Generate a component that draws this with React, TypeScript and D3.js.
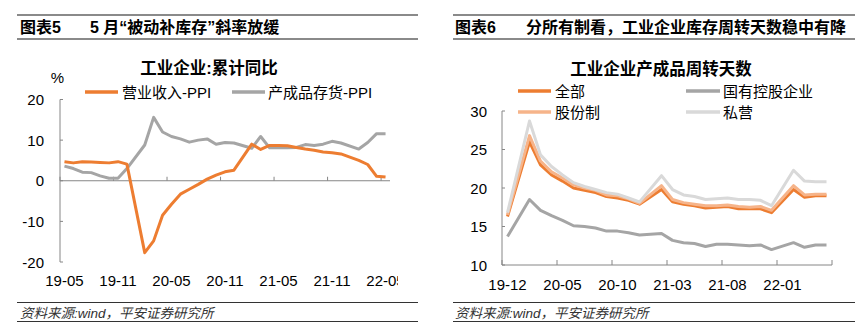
import React from 'react';
import * as d3 from 'd3';

// ---------- Left chart data ----------
const leftMonths = [
  '19-05', '19-06', '19-07', '19-08', '19-09', '19-10', '19-11', '19-12',
  '20-01', '20-02', '20-03', '20-04', '20-05', '20-06', '20-07', '20-08', '20-09', '20-10', '20-11', '20-12',
  '21-01', '21-02', '21-03', '21-04', '21-05', '21-06', '21-07', '21-08', '21-09', '21-10', '21-11', '21-12',
  '22-01', '22-02', '22-03', '22-04', '22-05',
];
const revenueMinusPPI = [
  4.7, 4.4, 4.7, 4.6, 4.5, 4.4, 4.7, 4.1,
  null, -17.7, -14.8, -8.5, -5.8, -3.3, -2.1, -0.9, 0.4, 1.4, 2.2, 2.6,
  null, 9.0, 7.7, 8.7, 8.7, 8.6, 8.2, 7.8, 7.5, 7.1, 6.9, 6.6,
  null, 5.0, 4.0, 1.1, 0.9,
];
const inventoryMinusPPI = [
  3.6, 3.0, 2.1, 2.0, 1.2, 0.6, 0.6, 3.0,
  null, 8.8, 15.6, 12.0, 10.9, 10.3, 9.5, 10.0, 10.3, 9.0, 9.4, 9.3,
  null, 8.0, 10.9, 8.1, 8.1, 8.1, 8.2, 8.9, 8.7, 9.0, 9.7, 9.3,
  null, 7.8, 9.4, 11.6, 11.6,
];
const leftYTicks = [-20, -10, 0, 10, 20];

// ---------- Right chart data ----------
const rightMonths = [
  '19-12',
  '20-01', '20-02', '20-03', '20-04', '20-05', '20-06', '20-07', '20-08', '20-09', '20-10', '20-11', '20-12',
  '21-01', '21-02', '21-03', '21-04', '21-05', '21-06', '21-07', '21-08', '21-09', '21-10', '21-11', '21-12',
  '22-01', '22-02', '22-03', '22-04', '22-05',
];
const allEnt = [16.3, null, 26.0, 23.0, 21.7, 20.9, 20.0, 19.7, 19.4, 18.9, 18.7, 18.4, 17.9, null, 19.8, 18.2, 17.9, 17.7, 17.4, 17.5, 17.6, 17.3, 17.3, 17.3, 16.8, null, 19.8, 18.8, 19.0, 19.0];
const soeEnt = [13.7, null, 18.5, 17.1, 16.4, 15.8, 15.1, 15.0, 14.8, 14.4, 14.4, 14.2, 13.9, null, 14.1, 13.2, 12.9, 12.8, 12.4, 12.7, 12.7, 12.6, 12.5, 12.6, 12.0, null, 12.9, 12.3, 12.6, 12.6];
const shareEnt = [16.5, null, 26.8, 23.5, 22.1, 21.3, 20.4, 20.0, 19.7, 19.1, 19.0, 18.6, 18.0, null, 20.3, 18.5, 18.1, 17.9, 17.7, 17.7, 17.8, 17.6, 17.5, 17.6, 17.1, null, 20.3, 19.1, 19.2, 19.2];
const privateEnt = [16.8, null, 28.7, 24.3, 22.8, 21.7, 20.7, 20.2, 19.8, 19.4, 19.2, 18.7, 18.2, null, 21.6, 19.8, 19.1, 18.9, 18.5, 18.6, 18.7, 18.5, 18.5, 18.4, 17.7, null, 22.3, 20.9, 20.8, 20.8];
const rightYTicks = [10, 15, 20, 25, 30];

const FONT = "'Liberation Sans', 'Noto Sans CJK SC', sans-serif";
const AXIS = '#868686';
const ORANGE = '#ED7D31';
const GRAY = '#A5A5A5';
const PEACH = '#F6B48A';
const LIGHTGRAY = '#D9D9D9';

function makePath(months: string[], vals: (number | null)[], x: any, y: any) {
  const pts: [number, number][] = [];
  months.forEach((m, i) => {
    const v = vals[i];
    if (v !== null && v !== undefined) pts.push([x(m) + x.bandwidth() / 2, y(v)]);
  });
  return d3.line()(pts) || '';
}

export default function App() {
  const xL = d3.scaleBand<string>().domain(leftMonths).range([60, 390]);
  const yL = d3.scaleLinear().domain([-20, 20]).range([262, 99.5]);
  const xR = d3.scaleBand<string>().domain(rightMonths).range([502, 832]);
  const yR = d3.scaleLinear().domain([10, 30]).range([265, 111]);

  const leftTickIdx = d3.range(0, leftMonths.length, 6);
  const rightTickX = d3.range(0, rightMonths.length, 5).map((i) => xR(rightMonths[i]) as number).concat([832]);

  const header = (x0: number, x1: number, tag: string, tagX: number, title: string, titleX: number) => (
    <g>
      <line x1={x0} x2={x1} y1={15} y2={15} stroke="#8a8a8a" strokeWidth={2} />
      <line x1={x0} x2={x1} y1={39} y2={39} stroke="#8a8a8a" strokeWidth={2} />
      <text x={tagX} y={27} fontSize={16} fontWeight="bold" dominantBaseline="central">{tag}</text>
      <text x={titleX} y={27} fontSize={16} fontWeight="bold" dominantBaseline="central">{title}</text>
    </g>
  );
  const footer = (x0: number, x1: number, tx: number) => (
    <g>
      <line x1={x0} x2={x1} y1={302.5} y2={302.5} stroke="#333" strokeWidth={1} />
      <line x1={x0} x2={x1} y1={321.5} y2={321.5} stroke="#333" strokeWidth={1} />
      <text x={tx} y={313} fontSize={13.5} fontStyle="italic" fill="#333" dominantBaseline="central">资料来源:wind，平安证券研究所</text>
    </g>
  );

  return (
    <svg width={866} height={333} style={{ position: 'absolute', left: 0, top: 0, background: '#fff' }} fontFamily={FONT}>
      <defs>
        <clipPath id="clipL"><rect x={0} y={0} width={398} height={333} /></clipPath>
      </defs>
      <rect x={0} y={0} width={866} height={333} fill="#fff" />

      {header(17, 418, '图表5', 20, '5 月“被动补库存”斜率放缓', 90)}
      {header(453, 855, '图表6', 455, '分所有制看，工业企业库存周转天数稳中有降', 526)}

      {/* ---------- Left chart ---------- */}
      <text x={209} y={68} fontSize={16.5} fontWeight="bold" textAnchor="middle" dominantBaseline="central">工业企业:累计同比</text>
      <text x={57.5} y={77} fontSize={15} textAnchor="middle" dominantBaseline="central">%</text>
      <line x1={85} x2={118} y1={92} y2={92} stroke={ORANGE} strokeWidth={3.5} />
      <text x={122} y={92} fontSize={15} dominantBaseline="central">营业收入-PPI</text>
      <line x1={232} x2={265} y1={92} y2={92} stroke={GRAY} strokeWidth={3.5} />
      <text x={268} y={92} fontSize={15} dominantBaseline="central">产成品存货-PPI</text>

      <line x1={60} x2={60} y1={yL(-20)} y2={yL(20)} stroke={AXIS} />
      {leftYTicks.map((t) => (
        <g key={t}>
          <line x1={60} x2={63} y1={yL(t)} y2={yL(t)} stroke={AXIS} />
          <text x={44} y={yL(t)} fontSize={15} textAnchor="end" dominantBaseline="central">{t}</text>
        </g>
      ))}
      <line x1={60} x2={390} y1={yL(0)} y2={yL(0)} stroke={AXIS} />
      {leftTickIdx.map((i) => (
        <line key={i} x1={xL(leftMonths[i])} x2={xL(leftMonths[i])} y1={yL(0)} y2={yL(0) - 4} stroke={AXIS} />
      ))}
      <g clipPath="url(#clipL)">
        {leftTickIdx.map((i) => (
          <text key={i} x={(xL(leftMonths[i]) as number) + xL.bandwidth() / 2} y={280} fontSize={15} textAnchor="middle" dominantBaseline="central">{leftMonths[i]}</text>
        ))}
      </g>
      <path d={makePath(leftMonths, inventoryMinusPPI, xL, yL)} fill="none" stroke={GRAY} strokeWidth={3} strokeLinejoin="round" />
      <path d={makePath(leftMonths, revenueMinusPPI, xL, yL)} fill="none" stroke={ORANGE} strokeWidth={3} strokeLinejoin="round" />

      {/* ---------- Right chart ---------- */}
      <text x={661} y={69} fontSize={16.5} fontWeight="bold" textAnchor="middle" dominantBaseline="central">工业企业产成品周转天数</text>
      <line x1={518} x2={551} y1={91} y2={91} stroke={ORANGE} strokeWidth={3.5} />
      <text x={555} y={91} fontSize={15} dominantBaseline="central">全部</text>
      <line x1={686} x2={720} y1={91} y2={91} stroke={GRAY} strokeWidth={3.5} />
      <text x={723} y={91} fontSize={15} dominantBaseline="central">国有控股企业</text>
      <line x1={518} x2={551} y1={112} y2={112} stroke={PEACH} strokeWidth={3.5} />
      <text x={555} y={112} fontSize={15} dominantBaseline="central">股份制</text>
      <line x1={686} x2={720} y1={112} y2={112} stroke={LIGHTGRAY} strokeWidth={3.5} />
      <text x={723} y={112} fontSize={15} dominantBaseline="central">私营</text>

      <line x1={502} x2={502} y1={yR(10)} y2={yR(30)} stroke={AXIS} />
      {rightYTicks.map((t) => (
        <g key={t}>
          <line x1={502} x2={505} y1={yR(t)} y2={yR(t)} stroke={AXIS} />
          <text x={487} y={yR(t)} fontSize={15} textAnchor="end" dominantBaseline="central">{t}</text>
        </g>
      ))}
      <line x1={502} x2={832} y1={yR(10)} y2={yR(10)} stroke={AXIS} />
      {rightTickX.map((x, k) => (
        <line key={k} x1={x} x2={x} y1={yR(10)} y2={yR(10) - 5} stroke={AXIS} />
      ))}
      {d3.range(0, rightMonths.length, 5).map((i) => (
        <text key={i} x={(xR(rightMonths[i]) as number) + xR.bandwidth() / 2} y={284} fontSize={15} textAnchor="middle" dominantBaseline="central">{rightMonths[i]}</text>
      ))}
      <path d={makePath(rightMonths, allEnt, xR, yR)} fill="none" stroke={ORANGE} strokeWidth={3} strokeLinejoin="round" />
      <path d={makePath(rightMonths, soeEnt, xR, yR)} fill="none" stroke={GRAY} strokeWidth={3} strokeLinejoin="round" />
      <path d={makePath(rightMonths, shareEnt, xR, yR)} fill="none" stroke={PEACH} strokeWidth={3} strokeLinejoin="round" />
      <path d={makePath(rightMonths, privateEnt, xR, yR)} fill="none" stroke={LIGHTGRAY} strokeWidth={3} strokeLinejoin="round" />

      {footer(17, 418, 20)}
      {footer(453, 855, 455)}
    </svg>
  );
}
